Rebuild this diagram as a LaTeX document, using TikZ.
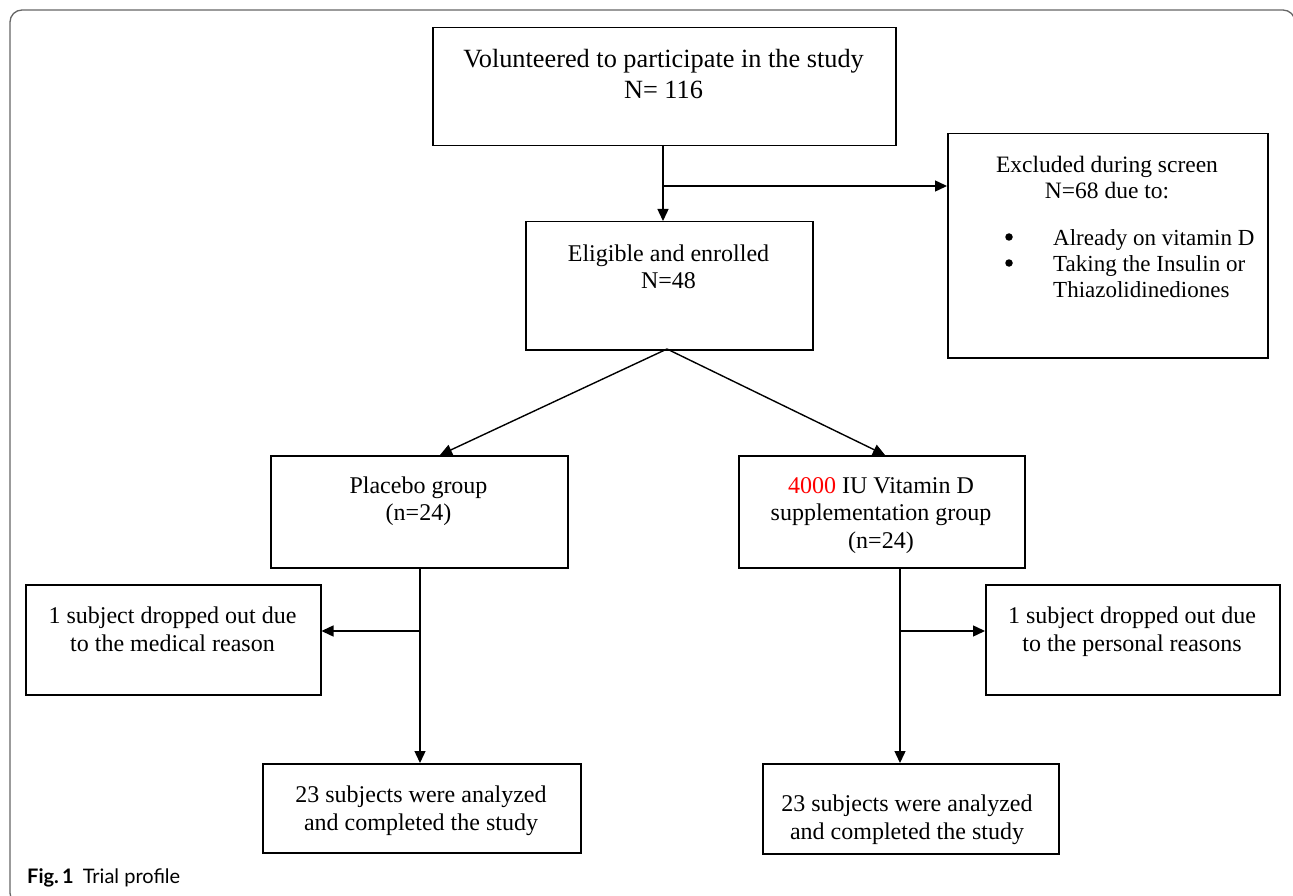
\documentclass[tikz,border=0pt]{standalone}
\usepackage{fontspec}
\setmainfont{Liberation Serif}
\newfontfamily\capfont{Lato}
\usetikzlibrary{arrows.meta,calc}
\begin{document}
\begin{tikzpicture}[x=1pt,y=-1pt,
  box/.style={draw, line width=1.5pt, inner sep=0pt, anchor=north west},
  txt/.style={font=\fontsize{24}{27.5}\selectfont, align=center, anchor=north, inner sep=0pt},
  arr/.style={line width=1.4pt, -{Triangle[length=12pt,width=11pt]}},
  dot/.style={circle, fill=black, inner sep=0pt, minimum size=7.5pt},
  frame/.style={draw=black!60, line width=1.3pt, rounded corners=12pt}]
\useasboundingbox (0,0) rectangle (1293,896);
\draw[frame] (10,10) rectangle (1295,905);
% boxes
\node[box, minimum width=463pt, minimum height=118pt] (vol) at (432,27) {};
\node[box, minimum width=320pt, minimum height=224pt] (excl) at (947,133) {};
\node[box, minimum width=287pt, minimum height=128pt] (elig) at (525,221) {};
\node[box, minimum width=297pt, minimum height=112pt] (plac) at (270,455) {};
\node[box, minimum width=286pt, minimum height=112pt] (vitd) at (738,455) {};
\node[box, minimum width=295pt, minimum height=110pt] (dropl) at (25,584) {};
\node[box, minimum width=294pt, minimum height=110pt] (dropr) at (985,584) {};
\node[box, minimum width=318pt, minimum height=89pt] (anl) at (262,763) {};
\node[box, minimum width=296pt, minimum height=90pt] (anr) at (762,763) {};
% texts
\node[txt, font=\fontsize{26.3}{31}\selectfont] (volt) at (663.5,47) {\rule{0pt}{20pt}Volunteered to participate in the study\\N= 116};
\node[txt, font=\fontsize{23.5}{26.5}\selectfont] (exclt) at (1107,152) {\rule{0pt}{20pt}Excluded during screen\\N=68 due to:};
\node[txt, font=\fontsize{23}{26}\selectfont, anchor=north west, align=left] (exclb) at (1053,225) {\rule{0pt}{20pt}Already on vitamin D\\Taking the Insulin or\\Thiazolidinediones};
\node[dot] (b1) at (1009,237) {};
\node[dot] (b2) at (1009,263) {};
\node[txt] (eligt) at (668.5,241) {\rule{0pt}{20pt}Eligible and enrolled\\N=48};
\node[txt] (plact) at (418.5,473) {\rule{0pt}{20pt}Placebo group\\(n=24)};
\node[txt] (vitdt) at (881,473) {\rule{0pt}{20pt}\textcolor{red}{4000} IU Vitamin D\\supplementation group\\(n=24)};
\node[txt, font=\fontsize{24}{28}\selectfont] (droplt) at (172.5,603) {\rule{0pt}{20pt}1 subject dropped out due\\to the medical reason};
\node[txt, font=\fontsize{24}{28}\selectfont] (droprt) at (1132,603) {\rule{0pt}{20pt}1 subject dropped out due\\to the personal reasons};
\node[txt, font=\fontsize{24}{28}\selectfont] (anlt) at (421,782) {\rule{0pt}{20pt}23 subjects were analyzed\\and completed the study};
\node[txt, font=\fontsize{24}{28}\selectfont] (anrt) at (907,791) {\rule{0pt}{20pt}23 subjects were analyzed\\and completed the study};
\node[anchor=base west, inner sep=0pt, font=\capfont\fontsize{20}{24}\selectfont] (cap) at (27,883) {\textbf{Fig.\,1}\hspace{9pt}Trial profile};
% connectors
\coordinate (v0) at (663,145);
\coordinate (br1) at (663,186);
\draw[arr] (v0) -- (v0 |- elig.north);
\draw[arr] (br1) -- (br1 -| excl.west);
\coordinate (es) at (667,349);
\coordinate (pt) at (440,455);
\coordinate (vt) at (885,455);
\draw[arr] (es) -- (pt);
\draw[arr] (es) -- (vt);
\coordinate (p0) at (420,567);
\coordinate (p1) at (420,631);
\draw[arr] (p0) -- (p0 |- anl.north);
\draw[arr] (p1) -- (p1 -| dropl.east);
\coordinate (q0) at (900,567);
\coordinate (q1) at (900,631);
\draw[arr] (q0) -- (q0 |- anr.north);
\draw[arr] (q1) -- (q1 -| dropr.west);
\end{tikzpicture}
\end{document}
